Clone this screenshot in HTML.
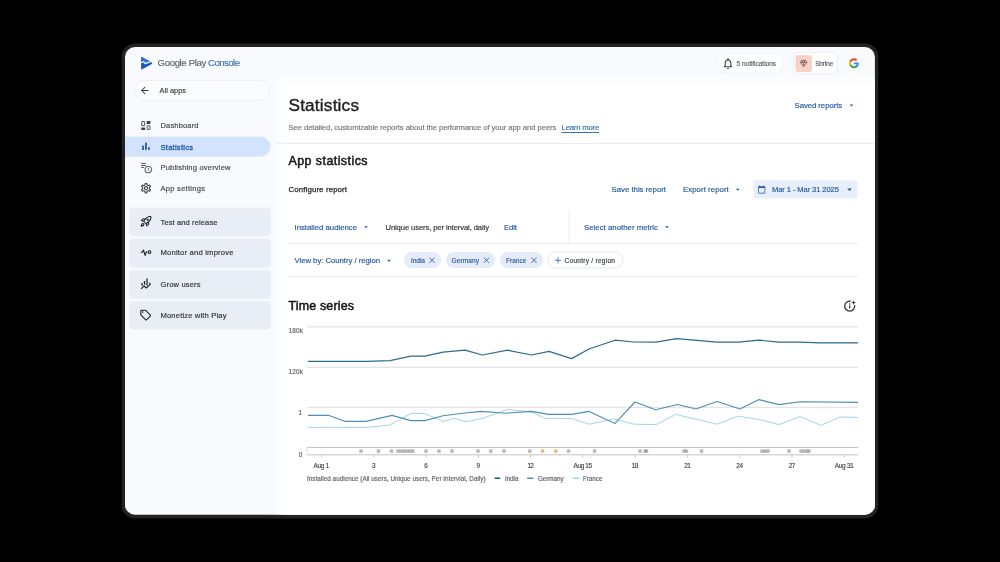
<!DOCTYPE html>
<html lang="en">
<head>
<meta charset="utf-8">
<title>Statistics - Google Play Console</title>
<style>
html,body{margin:0;padding:0;background:#000;}
body{width:1000px;height:562px;position:relative;overflow:hidden;font-family:'Liberation Sans', Arial, sans-serif;}
.t{-webkit-text-stroke:0.16px currentColor;position:absolute;margin:0;padding:0;white-space:nowrap;line-height:1;font-weight:normal;font-family:'Liberation Sans', Arial, sans-serif;display:block;}
.b{position:absolute;box-sizing:border-box;}
svg.bg{position:absolute;left:0;top:0;}
</style>
</head>
<body>
<svg class="bg" width="1000" height="562" viewBox="0 0 1000 562">
<defs><clipPath id="scr"><rect x="125" y="47" width="749.9" height="467.8" rx="10"/></clipPath><filter id="soft" x="-5%" y="-5%" width="110%" height="110%"><feGaussianBlur stdDeviation="4"/></filter></defs>
<rect x="121.7" y="43.6" width="756.6" height="474.9" rx="13.3" fill="#232323"/>
<rect x="125" y="47" width="749.9" height="467.8" rx="10" fill="#f8fafd"/>
<g clip-path="url(#scr)"><rect x="279" y="80" width="640" height="480" fill="#ffffff" filter="url(#soft)"/></g>
<rect x="716.90" y="54.00" width="67.00" height="18.90" rx="9.50" fill="#ffffff" stroke="#f3f5f8" stroke-width="1"/>
<rect x="793.50" y="52.70" width="43.70" height="21.20" rx="3.50" fill="#ffffff" stroke="#eceff3" stroke-width="1"/>
<rect x="795.40" y="55.20" width="16.60" height="16.70" rx="2.00" fill="#f9d1c9"/>
<rect x="134.50" y="80.50" width="135.00" height="20.00" rx="10.00" fill="#fafcfe" stroke="#eef0f4" stroke-width="1"/>
<path d="M125.00 136.40H260.30A10.2 10.2 0 0 1 270.50 146.60V146.60A10.2 10.2 0 0 1 260.30 156.80H125.00A0 0 0 0 1 125.00 156.80V136.40A0 0 0 0 1 125.00 136.40Z" fill="#d3e3fd"/>
<rect x="129.20" y="207.50" width="141.50" height="28.70" rx="4.00" fill="#e9eef6"/>
<rect x="129.20" y="238.80" width="141.50" height="29.00" rx="4.00" fill="#e9eef6"/>
<rect x="129.20" y="270.00" width="141.50" height="28.80" rx="4.00" fill="#e9eef6"/>
<rect x="129.20" y="300.90" width="141.50" height="28.60" rx="4.00" fill="#e9eef6"/>
<rect x="276.00" y="143.00" width="599.00" height="1.00" rx="0.00" fill="#ebedef"/>
<rect x="288.00" y="243.00" width="570.00" height="1.00" rx="0.00" fill="#ebedef"/>
<rect x="288.00" y="276.00" width="570.00" height="1.00" rx="0.00" fill="#ebedef"/>
<rect x="568.50" y="210.00" width="1.00" height="33.00" rx="0.00" fill="#ebedef"/>
<rect x="753.50" y="180.20" width="104.10" height="18.20" rx="2.00" fill="#e7eefc"/>
<rect x="404.00" y="252.00" width="37.00" height="16.00" rx="8.00" fill="#e6ebf9"/>
<rect x="446.00" y="252.00" width="49.00" height="16.00" rx="8.00" fill="#e6ebf9"/>
<rect x="500.00" y="252.00" width="43.00" height="16.00" rx="8.00" fill="#e6ebf9"/>
<rect x="548.00" y="252.00" width="75.00" height="16.00" rx="8.00" fill="#ffffff" stroke="#e6e8ec" stroke-width="1"/>
<svg x="849.65" y="104.40" width="3.70" height="2.00" viewBox="0 0 3.7 2.0" overflow="visible"><path d="M0 0H3.7L1.85 2.0Z" fill="#235a9f"/></svg>
<svg x="735.95" y="188.70" width="3.70" height="2.00" viewBox="0 0 3.7 2.0" overflow="visible"><path d="M0 0H3.7L1.85 2.0Z" fill="#235a9f"/></svg>
<svg x="847.10" y="188.40" width="4.80" height="2.60" viewBox="0 0 4.8 2.6" overflow="visible"><path d="M0 0H4.8L2.4 2.6Z" fill="#235a9f"/></svg>
<svg x="364.15" y="226.20" width="3.70" height="2.00" viewBox="0 0 3.7 2.0" overflow="visible"><path d="M0 0H3.7L1.85 2.0Z" fill="#235a9f"/></svg>
<svg x="665.15" y="226.20" width="3.70" height="2.00" viewBox="0 0 3.7 2.0" overflow="visible"><path d="M0 0H3.7L1.85 2.0Z" fill="#235a9f"/></svg>
<svg x="387.15" y="259.70" width="3.70" height="2.00" viewBox="0 0 3.7 2.0" overflow="visible"><path d="M0 0H3.7L1.85 2.0Z" fill="#235a9f"/></svg>
<svg x="429.40" y="257.70" width="5.20" height="5.20" viewBox="0 0 5.2 5.2" overflow="visible"><path d="M0 0L5.2 5.2M5.2 0L0 5.2" stroke="#2f5fa8" stroke-width="0.9" fill="none"/></svg>
<svg x="483.90" y="257.70" width="5.20" height="5.20" viewBox="0 0 5.2 5.2" overflow="visible"><path d="M0 0L5.2 5.2M5.2 0L0 5.2" stroke="#2f5fa8" stroke-width="0.9" fill="none"/></svg>
<svg x="531.40" y="257.70" width="5.20" height="5.20" viewBox="0 0 5.2 5.2" overflow="visible"><path d="M0 0L5.2 5.2M5.2 0L0 5.2" stroke="#2f5fa8" stroke-width="0.9" fill="none"/></svg>
<svg x="555.00" y="257.30" width="6.00" height="6.00" viewBox="0 0 6 6" overflow="visible"><path d="M3 0V6M0 3H6" stroke="#3b6fb5" stroke-width="0.9" fill="none"/></svg>
<svg x="140.90" y="56.70" width="11.60" height="13.10" viewBox="0 0 11.6 13.1" overflow="visible"><clipPath id="tri"><path d="M1.3 0.45 L10.9 5.75 Q11.7 6.55 10.9 7.35 L1.3 12.65 Q0.2 13.0 0.2 11.9 L0.2 1.2 Q0.2 0.1 1.3 0.45Z"/></clipPath><path d="M1.3 0.45 L10.9 5.75 Q11.7 6.55 10.9 7.35 L1.3 12.65 Q0.2 13.0 0.2 11.9 L0.2 1.2 Q0.2 0.1 1.3 0.45Z" fill="#1b55bd"/><g clip-path="url(#tri)"><path d="M-1 -1H12V4.9L9.8 4.9L4.4 7.0L2.9 5.2L-1 5.9Z" fill="#2a6fdc"/><path d="M-0.5 6.0L2.9 5.2L4.4 7.0L10.6 4.6" stroke="#e4f3ff" stroke-width="1.35" fill="none" stroke-linejoin="round"/></g></svg>
<svg x="141.00" y="86.80" width="7.40" height="7.40" viewBox="4 4 16 16" overflow="visible"><path d="M20 11H7.83l5.59-5.59L12 4l-8 8 8 8 1.41-1.41L7.83 13H20v-2z" fill="#3c4043"/></svg>
<svg x="721.40" y="56.90" width="13.20" height="13.20" viewBox="0 0 24 24" overflow="visible"><path d="M12 22c1.1 0 2-.9 2-2h-4c0 1.1.9 2 2 2zm6-6v-5c0-3.07-1.63-5.64-4.5-6.32V4c0-.83-.67-1.5-1.5-1.5s-1.5.67-1.5 1.5v.68C7.64 5.36 6 7.92 6 11v5l-2 2v1h16v-1l-2-2zm-2 1H8v-6c0-2.48 1.51-4.5 4-4.5s4 2.02 4 4.5v6z" fill="#3c4043"/></svg>
<svg x="799.90" y="59.90" width="7.40" height="7.10" viewBox="0 0 8.6 8.2" overflow="visible"><path d="M2.2 0.5H6.4L8.1 2.9L4.3 7.6L0.5 2.9Z M0.5 2.9H8.1 M2.2 0.5L4.3 2.9L6.4 0.5 M4.3 2.9V7.6" stroke="#4a2c2a" stroke-width="0.7" fill="none" stroke-linejoin="round"/></svg>
<svg x="848.60" y="57.90" width="10.80" height="10.80" viewBox="0 0 48 48" overflow="visible"><path fill="#4285F4" d="M45.12 24.5c0-1.56-.14-3.06-.4-4.5H24v8.51h11.84c-.51 2.75-2.06 5.08-4.39 6.64v5.52h7.11c4.16-3.83 6.56-9.47 6.56-16.17z"/><path fill="#34A853" d="M24 46c5.94 0 10.92-1.97 14.56-5.33l-7.11-5.52c-1.97 1.32-4.49 2.1-7.45 2.1-5.73 0-10.58-3.87-12.31-9.07H4.34v5.7C7.96 41.07 15.4 46 24 46z"/><path fill="#FBBC05" d="M11.69 28.18C11.25 26.86 11 25.45 11 24s.25-2.86.69-4.18v-5.7H4.34C2.85 17.09 2 20.45 2 24c0 3.55.85 6.91 2.34 9.88l7.35-5.7z"/><path fill="#EA4335" d="M24 10.75c3.23 0 6.13 1.11 8.41 3.29l6.31-6.31C34.91 4.18 29.93 2 24 2 15.4 2 7.96 6.93 4.34 14.12l7.35 5.7c1.73-5.2 6.58-9.07 12.31-9.07z"/></svg>
<svg x="141.20" y="121.00" width="9.30" height="9.00" viewBox="0 0 9.3 9.0" overflow="visible"><rect x="0.55" y="0.55" width="2.9" height="4.1" rx="0.3" fill="none" stroke="#3c4043" stroke-width="0.9"/><rect x="5.5" y="0.1" width="3.7" height="2.9" rx="0.4" fill="#3c4043"/><rect x="0.1" y="6.5" width="3.8" height="2.4" rx="0.4" fill="#3c4043"/><rect x="5.95" y="4.85" width="2.8" height="3.6" rx="0.3" fill="none" stroke="#3c4043" stroke-width="0.9"/></svg>
<svg x="142.20" y="142.60" width="7.50" height="7.50" viewBox="0 0 7.5 7.5" overflow="visible"><rect x="0" y="2.8" width="1.7" height="4.7" rx="0.5" fill="#1d57ad"/><rect x="2.9" y="0" width="1.7" height="7.5" rx="0.5" fill="#1d57ad"/><rect x="6.0" y="4.4" width="1.5" height="3.1" rx="0.5" fill="#1d57ad"/></svg>
<svg x="141.00" y="162.60" width="11.20" height="11.20" viewBox="0 0 11.2 11.2" overflow="visible"><path d="M0.2 0.85H4.9M0.2 2.9H4.9M0.2 4.95H2.8" stroke="#3c4043" stroke-width="0.9" fill="none"/><circle cx="7.3" cy="7.0" r="3.35" stroke="#3c4043" stroke-width="0.95" fill="none"/><path d="M7.3 5.2V7.2L8.4 8.0" stroke="#3c4043" stroke-width="0.8" fill="none"/></svg>
<svg x="139.70" y="181.90" width="12.60" height="12.60" viewBox="0 0 24 24" overflow="visible"><path d="M19.43 12.98c.04-.32.07-.64.07-.98 0-.34-.03-.66-.07-.98l2.11-1.65c.19-.15.24-.42.12-.64l-2-3.46c-.09-.16-.26-.25-.44-.25-.06 0-.12.01-.17.03l-2.49 1c-.52-.4-1.08-.73-1.69-.98l-.38-2.65C14.46 2.18 14.25 2 14 2h-4c-.25 0-.46.18-.49.42l-.38 2.65c-.61.25-1.17.59-1.69.98l-2.49-1c-.06-.02-.12-.03-.18-.03-.17 0-.34.09-.43.25l-2 3.46c-.13.22-.07.49.12.64l2.11 1.65c-.04.32-.07.65-.07.98 0 .33.03.66.07.98l-2.11 1.65c-.19.15-.24.42-.12.64l2 3.46c.09.16.26.25.44.25.06 0 .12-.01.17-.03l2.49-1c.52.4 1.08.73 1.69.98l.38 2.65c.03.24.24.42.49.42h4c.25 0 .46-.18.49-.42l.38-2.65c.61-.25 1.17-.59 1.69-.98l2.49 1c.06.02.12.03.18.03.17 0 .34-.09.43-.25l2-3.46c.12-.22.07-.49-.12-.64l-2.11-1.65zm-1.98-1.71c.04.31.05.52.05.73 0 .21-.02.43-.05.73l-.14 1.13.89.7 1.08.84-.7 1.21-1.27-.51-1.04-.42-.9.68c-.43.32-.84.56-1.25.73l-1.06.43-.16 1.13-.2 1.35h-1.4l-.19-1.35-.16-1.13-1.06-.43c-.43-.18-.83-.41-1.23-.71l-.91-.7-1.06.43-1.27.51-.7-1.21 1.08-.84.89-.7-.14-1.13c-.03-.31-.05-.54-.05-.74s.02-.43.05-.73l.14-1.13-.89-.7-1.08-.84.7-1.21 1.27.51 1.04.42.9-.68c.43-.32.84-.56 1.25-.73l1.06-.43.16-1.13.2-1.35h1.39l.19 1.35.16 1.13 1.06.43c.43.18.83.41 1.23.71l.91.7 1.06-.43 1.27-.51.7 1.21-1.07.85-.89.7.14 1.13zM12 8c-2.21 0-4 1.79-4 4s1.79 4 4 4 4-1.79 4-4-1.79-4-4-4zm0 6c-1.1 0-2-.9-2-2s.9-2 2-2 2 .9 2 2-.9 2-2 2z" fill="#3c4043"/></svg>
<svg x="139.50" y="214.90" width="13.00" height="13.00" viewBox="0 0 24 24" overflow="visible"><path d="M6 15c-.83 0-1.58.34-2.12.88C2.7 17.06 2 22 2 22s4.94-.7 6.12-1.88A2.996 2.996 0 0 0 6 15zm.71 3.71c-.28.28-2.17.76-2.17.76s.47-1.88.76-2.17c.17-.19.42-.3.7-.3a1.003 1.003 0 0 1 .71 1.71zm10.71-5.06c6.36-6.36 4.24-11.31 4.24-11.31S16.71.22 10.35 6.58l-2.49-.5a2.03 2.03 0 0 0-1.81.55L2 10.69l5 2.14L11.17 17l2.14 5 4.05-4.05c.47-.47.68-1.15.55-1.81l-.49-2.49zM7.41 10.83l-1.91-.82 1.97-1.97 1.44.29c-.57.83-1.08 1.7-1.5 2.5zm6.58 7.67-.82-1.91c.8-.42 1.67-.93 2.49-1.5l.29 1.44-1.96 1.97zM16 12.24c-1.32 1.32-3.38 2.4-4.04 2.73l-2.93-2.93c.32-.65 1.4-2.71 2.73-4.04 4.68-4.68 8.23-3.99 8.23-3.99s.69 3.55-3.99 8.23zM15 11c1.1 0 2-.9 2-2s-.9-2-2-2-2 .9-2 2 .9 2 2 2z" fill="#202124"/></svg>
<svg x="140.60" y="249.20" width="11.00" height="7.00" viewBox="0 0 11 7" overflow="visible"><path d="M0 3H1.6L2.9 0.9L4.5 6.2L5.9 2.6H6.6" stroke="#202124" stroke-width="1.15" fill="none" stroke-linejoin="round"/><circle cx="8.9" cy="2.9" r="1.35" stroke="#202124" stroke-width="1.1" fill="none"/></svg>
<svg x="140.60" y="278.40" width="10.60" height="10.80" viewBox="0 0 10.6 10.8" overflow="visible"><path d="M1.5 4.6V7.4M3.9 2.6V6.4M6.4 0.1V7.2M9.2 4.4V6.2" stroke="#202124" stroke-width="1.25" fill="none"/><path d="M0.4 10.4L3.4 7.6L5.8 9.6L9.8 5.8" stroke="#202124" stroke-width="1.05" fill="none" stroke-linejoin="round"/></svg>
<svg x="139.20" y="308.60" width="13.00" height="13.00" viewBox="0 0 24 24" overflow="visible"><path d="M21.41 11.41l-8.83-8.83c-.37-.37-.88-.58-1.41-.58H4c-1.1 0-2 .9-2 2v7.17c0 .53.21 1.04.59 1.41l8.83 8.83c.78.78 2.05.78 2.83 0l7.17-7.17c.78-.78.78-2.04-.01-2.83zM12.83 20L4 11.17V4h7.17L20 12.83 12.83 20z" fill="#202124"/><circle cx="6.5" cy="6.5" r="1.5" fill="#202124"/></svg>
<svg x="757.40" y="185.20" width="8.60" height="8.60" viewBox="1 0 22 24" overflow="visible"><path d="M20 3h-1V1h-2v2H7V1H5v2H4c-1.1 0-2 .9-2 2v16c0 1.1.9 2 2 2h16c1.1 0 2-.9 2-2V5c0-1.1-.9-2-2-2zm0 18H4V8h16v13z" fill="#1f5aa6"/></svg>
<svg x="843.70" y="300.10" width="12.00" height="12.00" viewBox="0 0 12 12" overflow="visible"><path d="M7.29 1.17A5 5 0 1 0 10.92 5.13" stroke="#303134" stroke-width="1.25" fill="none"/><path d="M6 5.5V8.5" stroke="#303134" stroke-width="1.25"/><circle cx="6" cy="3.9" r="0.75" fill="#303134"/><path d="M9.9 0.1L10.5 1.9L12.3 2.5L10.5 3.1L9.9 4.9L9.3 3.1L7.5 2.5L9.3 1.9Z" fill="#303134"/></svg>
<g><rect x="307" y="326.1" width="551" height="1.4" fill="#e5e5e5"/><rect x="307" y="366.6" width="551" height="1.4" fill="#e5e5e5"/><rect x="307" y="406.7" width="551" height="1.4" fill="#e5e5e5"/><rect x="307" y="447" width="551.4" height="1" fill="#c4c4c4"/><rect x="307" y="454.3" width="551.4" height="1" fill="#c4c4c4"/><rect x="306.5" y="448.4" width="0.8" height="3.4" fill="#c4c4c4"/><rect x="321.0" y="455" width="0.8" height="2.6" fill="#c4c4c4"/><rect x="373.3" y="455" width="0.8" height="2.6" fill="#c4c4c4"/><rect x="425.6" y="455" width="0.8" height="2.6" fill="#c4c4c4"/><rect x="477.9" y="455" width="0.8" height="2.6" fill="#c4c4c4"/><rect x="530.2" y="455" width="0.8" height="2.6" fill="#c4c4c4"/><rect x="582.4" y="455" width="0.8" height="2.6" fill="#c4c4c4"/><rect x="634.7" y="455" width="0.8" height="2.6" fill="#c4c4c4"/><rect x="687.0" y="455" width="0.8" height="2.6" fill="#c4c4c4"/><rect x="739.3" y="455" width="0.8" height="2.6" fill="#c4c4c4"/><rect x="791.6" y="455" width="0.8" height="2.6" fill="#c4c4c4"/><rect x="843.9" y="455" width="0.8" height="2.6" fill="#c4c4c4"/><rect x="359.3" y="449.4" width="3.4" height="3.4" fill="#888888" fill-opacity="0.6"/><rect x="376.7" y="449.4" width="3.4" height="3.4" fill="#888888" fill-opacity="0.6"/><rect x="389.7" y="449.4" width="3.4" height="3.4" fill="#888888" fill-opacity="0.6"/><rect x="396.3" y="449.4" width="3.4" height="3.4" fill="#888888" fill-opacity="0.6"/><rect x="399.3" y="449.4" width="3.4" height="3.4" fill="#888888" fill-opacity="0.6"/><rect x="402.3" y="449.4" width="3.4" height="3.4" fill="#888888" fill-opacity="0.6"/><rect x="405.3" y="449.4" width="3.4" height="3.4" fill="#888888" fill-opacity="0.6"/><rect x="408.3" y="449.4" width="3.4" height="3.4" fill="#888888" fill-opacity="0.6"/><rect x="411.3" y="449.4" width="3.4" height="3.4" fill="#888888" fill-opacity="0.6"/><rect x="424.3" y="449.4" width="3.4" height="3.4" fill="#888888" fill-opacity="0.6"/><rect x="437.3" y="449.4" width="3.4" height="3.4" fill="#888888" fill-opacity="0.6"/><rect x="450.3" y="449.4" width="3.4" height="3.4" fill="#888888" fill-opacity="0.6"/><rect x="476.3" y="449.4" width="3.4" height="3.4" fill="#888888" fill-opacity="0.6"/><rect x="489.1" y="449.4" width="3.4" height="3.4" fill="#888888" fill-opacity="0.6"/><rect x="502.3" y="449.4" width="3.4" height="3.4" fill="#888888" fill-opacity="0.6"/><rect x="528.1" y="449.4" width="3.4" height="3.4" fill="#888888" fill-opacity="0.6"/><rect x="566.9" y="449.4" width="3.4" height="3.4" fill="#888888" fill-opacity="0.6"/><rect x="592.9" y="449.4" width="3.4" height="3.4" fill="#888888" fill-opacity="0.6"/><rect x="638.3" y="449.4" width="3.4" height="3.4" fill="#888888" fill-opacity="0.6"/><rect x="643.3" y="449.4" width="3.4" height="3.4" fill="#888888" fill-opacity="0.6"/><rect x="644.8" y="449.4" width="3.4" height="3.4" fill="#888888" fill-opacity="0.6"/><rect x="682.3" y="449.4" width="3.4" height="3.4" fill="#888888" fill-opacity="0.6"/><rect x="684.8" y="449.4" width="3.4" height="3.4" fill="#888888" fill-opacity="0.6"/><rect x="699.9" y="449.4" width="3.4" height="3.4" fill="#888888" fill-opacity="0.6"/><rect x="760.3" y="449.4" width="3.4" height="3.4" fill="#888888" fill-opacity="0.6"/><rect x="763.3" y="449.4" width="3.4" height="3.4" fill="#888888" fill-opacity="0.6"/><rect x="766.3" y="449.4" width="3.4" height="3.4" fill="#888888" fill-opacity="0.6"/><rect x="787.3" y="449.4" width="3.4" height="3.4" fill="#888888" fill-opacity="0.6"/><rect x="799.3" y="449.4" width="3.4" height="3.4" fill="#888888" fill-opacity="0.6"/><rect x="802.3" y="449.4" width="3.4" height="3.4" fill="#888888" fill-opacity="0.6"/><rect x="805.3" y="449.4" width="3.4" height="3.4" fill="#888888" fill-opacity="0.6"/><rect x="807.3" y="449.4" width="3.4" height="3.4" fill="#888888" fill-opacity="0.6"/><circle cx="542.6" cy="451.1" r="1.9" fill="#e8b27d"/><circle cx="555.8" cy="451.1" r="1.9" fill="#e8b27d"/><polyline points="308.4,427.4 366.0,427.4 390.0,425.0 411.0,413.4 424.0,413.4 443.0,421.4 454.0,418.2 466.0,421.8 483.0,418.2 507.6,409.4 531.6,412.0 545.0,418.4 572.0,418.6 589.0,424.2 614.4,419.0 634.0,424.2 656.0,424.6 676.0,414.4 717.0,424.2 738.0,416.2 759.0,419.4 779.0,424.6 800.0,416.6 821.0,425.4 840.0,417.0 857.6,417.4" fill="none" stroke="#a3d3ec" stroke-width="1.0" stroke-linejoin="round" stroke-linecap="round"/><polyline points="308.4,415.4 329.0,415.4 345.6,421.4 366.0,421.4 392.0,415.4 411.0,420.6 425.0,420.6 443.0,415.8 465.0,413.0 481.0,411.4 506.0,413.2 531.0,411.4 549.0,414.4 572.0,414.4 589.0,411.4 615.0,423.4 635.0,402.0 655.6,409.8 677.5,404.5 696.0,409.0 717.0,401.6 740.0,409.0 759.0,399.6 779.0,404.6 800.0,401.8 857.6,402.4" fill="none" stroke="#4d8fb6" stroke-width="1.1" stroke-linejoin="round" stroke-linecap="round"/><polyline points="308.4,361.4 366.0,361.4 390.0,360.6 411.0,356.2 425.0,356.2 443.0,352.2 465.0,350.2 482.4,355.0 507.6,350.2 531.6,355.0 549.0,351.4 571.6,358.6 589.0,349.0 615.0,340.2 634.0,342.0 656.0,342.2 676.5,338.6 717.0,342.2 739.0,342.2 759.0,340.2 779.0,342.2 800.0,342.2 820.0,342.8 857.6,342.8" fill="none" stroke="#2c6a8e" stroke-width="1.2" stroke-linejoin="round" stroke-linecap="round"/><rect x="494.4" y="477.5" width="6" height="1.4" rx="0.7" fill="#1f5673"/><rect x="527" y="477.5" width="6.6" height="1.4" rx="0.7" fill="#4d8fb6"/><rect x="572.6" y="477.5" width="6.4" height="1.4" rx="0.7" fill="#a3d3ec"/></g>
</svg>
<header>
<span class="t" style="left:157.6px;top:58.2px;font-size:9.6px;color:#5f6368;letter-spacing:-0.367px;-webkit-text-stroke:0.15px #5f6368;">Google Play</span>
<span class="t" style="left:208.0px;top:58.2px;font-size:9.6px;color:#3b78b5;letter-spacing:-0.534px;-webkit-text-stroke:0.15px #3b78b5;">Console</span>
<span class="t" style="left:736.5px;top:60.5px;font-size:6.6px;color:#5f6368;letter-spacing:-0.052px;">5 notifications</span>
<span class="t" style="left:815.2px;top:60.5px;font-size:6.6px;color:#5f6368;letter-spacing:-0.212px;">Shrine</span>
</header>
<nav>
<span class="t" style="left:159.5px;top:87.4px;font-size:7.4px;color:#3c4043;letter-spacing:0.029px;">All apps</span>
<span class="t" style="left:160.5px;top:122.1px;font-size:7.6px;color:#444746;letter-spacing:0.105px;">Dashboard</span>
<span class="t" style="left:160.5px;top:143.9px;font-size:7.6px;color:#1d57ad;letter-spacing:0.234px;-webkit-text-stroke:0.28px #1d57ad;">Statistics</span>
<span class="t" style="left:160.5px;top:164.2px;font-size:7.6px;color:#444746;letter-spacing:0.160px;">Publishing overview</span>
<span class="t" style="left:160.5px;top:185.2px;font-size:7.6px;color:#444746;letter-spacing:0.246px;">App settings</span>
<span class="t" style="left:160.5px;top:218.7px;font-size:7.6px;color:#303134;letter-spacing:0.084px;">Test and release</span>
<span class="t" style="left:160.5px;top:249.1px;font-size:7.6px;color:#303134;letter-spacing:0.209px;">Monitor and improve</span>
<span class="t" style="left:160.5px;top:280.5px;font-size:7.6px;color:#303134;letter-spacing:0.130px;">Grow users</span>
<span class="t" style="left:160.5px;top:311.6px;font-size:7.6px;color:#303134;letter-spacing:0.158px;">Monetize with Play</span>
</nav>
<main>
<h1 class="t" style="left:288.5px;top:96.8px;font-size:17.2px;color:#1f1f1f;letter-spacing:0.191px;-webkit-text-stroke:0.4px #1f1f1f;">Statistics</h1>
<p class="t" style="left:288.5px;top:123.6px;font-size:7.7px;color:#74777b;letter-spacing:-0.084px;">See detailed, customizable reports about the performance of your app and peers</p>
<a class="t" style="left:561.6px;top:123.6px;font-size:7.7px;color:#3573b3;letter-spacing:-0.190px;text-decoration:underline;text-underline-offset:1.5px;">Learn more</a>
<span class="t" style="left:794.5px;top:101.8px;font-size:7.8px;color:#235a9f;letter-spacing:-0.071px;">Saved reports</span>
<h2 class="t" style="left:288.5px;top:155.0px;font-size:12.4px;color:#141414;letter-spacing:0.462px;-webkit-text-stroke:0.5px #141414;">App statistics</h2>
<span class="t" style="left:288.5px;top:186.1px;font-size:7.8px;color:#1f1f1f;letter-spacing:0.144px;-webkit-text-stroke:0.25px #1f1f1f;">Configure report</span>
<span class="t" style="left:611.5px;top:186.1px;font-size:7.8px;color:#235a9f;letter-spacing:-0.007px;">Save this report</span>
<span class="t" style="left:683.0px;top:186.1px;font-size:7.8px;color:#235a9f;letter-spacing:0.060px;">Export report</span>
<span class="t" style="left:772.0px;top:186.2px;font-size:7.6px;color:#235a9f;letter-spacing:-0.105px;">Mar 1 - Mar 31 2025</span>
<span class="t" style="left:294.5px;top:223.5px;font-size:7.8px;color:#235a9f;letter-spacing:-0.021px;">Installed audience</span>
<span class="t" style="left:385.5px;top:223.6px;font-size:7.6px;color:#303134;letter-spacing:-0.090px;">Unique users, per interval, daily</span>
<span class="t" style="left:504.0px;top:223.5px;font-size:7.8px;color:#235a9f;letter-spacing:-0.146px;">Edit</span>
<span class="t" style="left:584.0px;top:223.5px;font-size:7.8px;color:#235a9f;letter-spacing:0.016px;">Select another metric</span>
<span class="t" style="left:294.5px;top:257.1px;font-size:7.8px;color:#235a9f;letter-spacing:-0.061px;">View by: Country / region</span>
<span class="t" style="left:411.0px;top:257.5px;font-size:6.6px;color:#2f5fa8;letter-spacing:-0.078px;">India</span>
<span class="t" style="left:451.5px;top:257.5px;font-size:6.6px;color:#2f5fa8;letter-spacing:0.062px;">Germany</span>
<span class="t" style="left:506.0px;top:257.5px;font-size:6.6px;color:#2f5fa8;letter-spacing:-0.006px;">France</span>
<span class="t" style="left:564.5px;top:257.5px;font-size:6.6px;color:#3c4043;letter-spacing:0.239px;">Country / region</span>
<h2 class="t" style="left:288.5px;top:300.0px;font-size:12.4px;color:#141414;letter-spacing:0.192px;-webkit-text-stroke:0.5px #141414;">Time series</h2>
<section>
<span class="t" style="left:288.5px;top:328.3px;font-size:6.4px;color:#5f6368;letter-spacing:0.214px;">180k</span>
<span class="t" style="left:288.5px;top:369.3px;font-size:6.4px;color:#5f6368;letter-spacing:0.214px;">120k</span>
<span class="t" style="left:298.5px;top:410.3px;font-size:6.4px;color:#5f6368;letter-spacing:0.000px;">1</span>
<span class="t" style="left:298.8px;top:452.1px;font-size:6.4px;color:#5f6368;letter-spacing:0.000px;">0</span>
<span class="t" style="left:313.6px;top:463.1px;font-size:6.4px;color:#444746;letter-spacing:-0.301px;">Aug 1</span>
<span class="t" style="left:371.9px;top:463.1px;font-size:6.4px;color:#444746;letter-spacing:0.000px;">3</span>
<span class="t" style="left:424.2px;top:463.1px;font-size:6.4px;color:#444746;letter-spacing:0.000px;">6</span>
<span class="t" style="left:476.5px;top:463.1px;font-size:6.4px;color:#444746;letter-spacing:0.000px;">9</span>
<span class="t" style="left:527.4px;top:463.1px;font-size:6.4px;color:#444746;letter-spacing:-0.600px;">12</span>
<span class="t" style="left:573.6px;top:463.1px;font-size:6.4px;color:#444746;letter-spacing:-0.353px;">Aug 15</span>
<span class="t" style="left:631.8px;top:463.1px;font-size:6.4px;color:#444746;letter-spacing:-0.509px;">18</span>
<span class="t" style="left:684.2px;top:463.1px;font-size:6.4px;color:#444746;letter-spacing:-0.600px;">21</span>
<span class="t" style="left:736.3px;top:463.1px;font-size:6.4px;color:#444746;letter-spacing:-0.309px;">24</span>
<span class="t" style="left:788.7px;top:463.1px;font-size:6.4px;color:#444746;letter-spacing:-0.509px;">27</span>
<span class="t" style="left:834.8px;top:463.1px;font-size:6.4px;color:#444746;letter-spacing:-0.253px;">Aug 31</span>
<span class="t" style="left:307.0px;top:475.5px;font-size:6.3px;color:#5f6368;letter-spacing:0.039px;">Installed audience (All users, Unique users, Per Intervial, Daily)</span>
<span class="t" style="left:505.0px;top:475.5px;font-size:6.3px;color:#5f6368;letter-spacing:-0.064px;">India</span>
<span class="t" style="left:538.0px;top:475.5px;font-size:6.3px;color:#5f6368;letter-spacing:-0.051px;">Germany</span>
<span class="t" style="left:583.0px;top:475.5px;font-size:6.3px;color:#5f6368;letter-spacing:-0.042px;">France</span>
</section>
</main>

</body>
</html>
